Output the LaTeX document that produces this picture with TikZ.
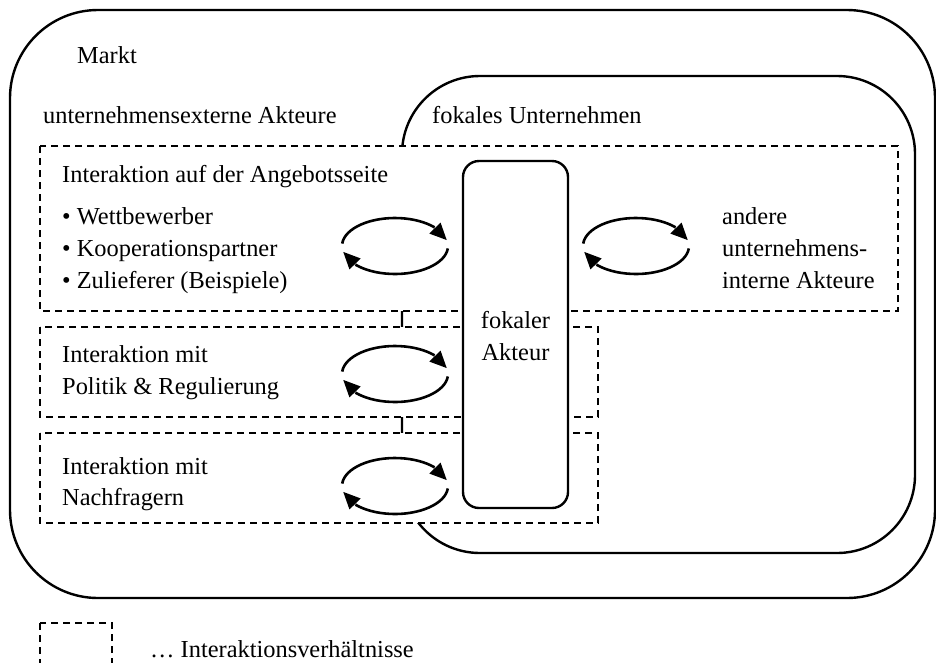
\documentclass[tikz,border=0pt]{standalone}
\usepackage{fontspec}
\setmainfont{Liberation Serif}
\usetikzlibrary{arrows.meta,bending}
\begin{document}
\begin{tikzpicture}[x=1pt,y=-1pt,
  every node/.style={font=\fontsize{24.4}{32}\selectfont},
  lbl/.style={anchor=base west, inner sep=0pt},
  ctr/.style={anchor=base, inner sep=0pt},
  border/.style={draw, line width=2.4pt},
  field/.style={draw, fill=white, line width=1.6pt, dash pattern=on 7pt off 5pt},
  turn/.style={line width=2.6pt, -{Triangle[length=17pt,width=15pt,flex]}},
  exchange/.pic={
    \draw[turn] (175:53pt and 28pt) arc[start angle=175, end angle=12, x radius=53pt, y radius=28pt];
    \draw[turn] (-5:53pt and 28pt) arc[start angle=-5, end angle=-168, x radius=53pt, y radius=28pt];
  }]
\useasboundingbox (0,0) rectangle (936,662);

% market and focal company
\draw[border, rounded corners=88pt] (10,10) rectangle (935,598);
\draw[border, rounded corners=78pt] (402,76) rectangle (915,553);

% interaction areas
\draw[field] (40,146) rectangle (898,311);
\draw[field] (40,327) rectangle (598,417);
\draw[field] (40,433) rectangle (598,523);

% focal actor
\node[border, fill=white, rounded corners=16pt, minimum width=105pt, minimum height=347pt, inner sep=0pt] (fa) at (515.5,334.5) {};
\node[ctr] (fa1) at (515.5,328) {fokaler};
\node[ctr] (fa2) at (515.5,360) {Akteur};

% labels
\node[lbl] (markt) at (77,63) {Markt};
\node[lbl] (ext) at (43,123) {unternehmensexterne Akteure};
\node[lbl] (fu) at (432,123) {fokales Unternehmen};

\node[lbl] (ang) at (62,182) {Interaktion auf der Angebotsseite};
\node[lbl] (b1) at (62,224) {• Wettbewerber};
\node[lbl] (b2) at (62,256) {• Kooperationspartner};
\node[lbl] (b3) at (62,288) {• Zulieferer (Beispiele)};

\node[lbl] (int1) at (722,224) {andere};
\node[lbl] (int2) at (722,256) {unternehmens-};
\node[lbl] (int3) at (722,288) {interne Akteure};

\node[lbl] (pol1) at (62,362) {Interaktion mit};
\node[lbl] (pol2) at (62,394) {Politik \& Regulierung};

\node[lbl] (nf1) at (62,474) {Interaktion mit};
\node[lbl] (nf2) at (62,505) {Nachfragern};

% exchange arrows
\pic at (395,246) {exchange};
\pic at (636,246) {exchange};
\pic at (395,374) {exchange};
\pic at (395,486) {exchange};

% legend
\draw[field] (40,623) rectangle (112,680);
\node[lbl] (leg) at (150,657) {… Interaktionsverhältnisse};
\end{tikzpicture}
\end{document}
